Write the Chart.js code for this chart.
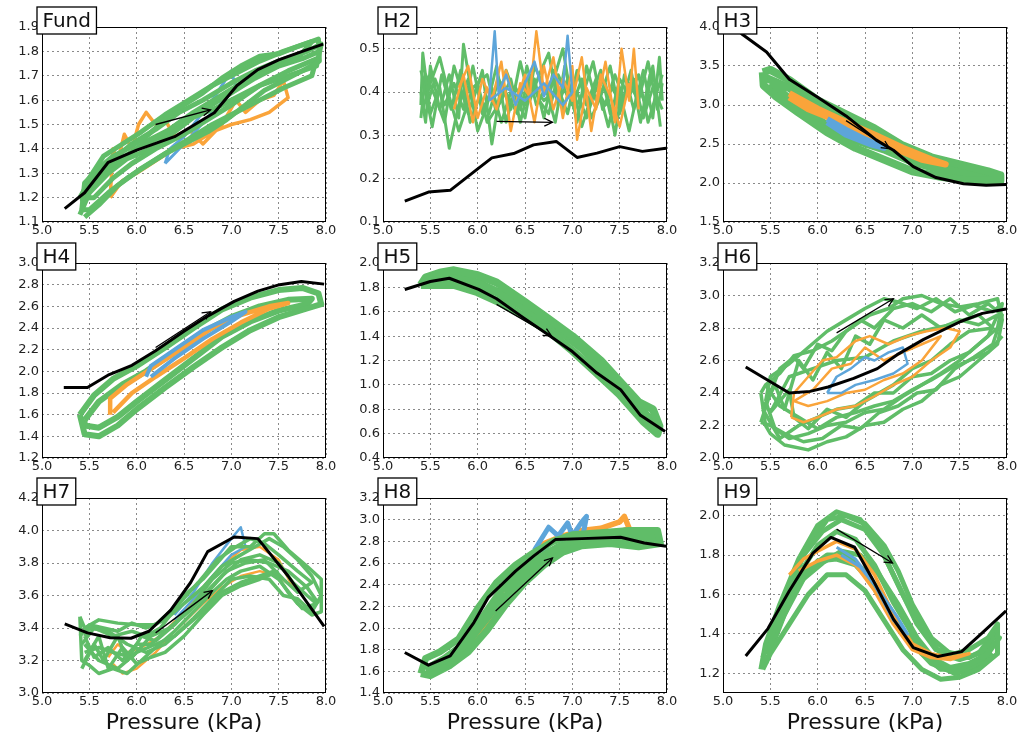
<!DOCTYPE html>
<html>
<head>
<meta charset="utf-8">
<script src="https://cdn.jsdelivr.net/npm/chart.js@4.4.1/dist/chart.umd.min.js"></script>
<style>
  body { margin: 0; background: #fff; }
  #grid { position: relative; width: 1023px; height: 742px; overflow: hidden; }
  #grid canvas { position: absolute; }
</style>
</head>
<body>
<div id="grid"></div>
<script>
// ---- data (x = pressure kPa) ----
const names = ['Fund', 'H2', 'H3', 'H4', 'H5', 'H6', 'H7', 'H8', 'H9'];
const xTicks = [5.0, 5.5, 6.0, 6.5, 7.0, 7.5, 8.0];
const xLim = [5.0, 8.0];

const yLims = [[1.1, 1.9], [0.1, 0.55], [1.5, 4.0], [1.2, 3.0], [0.4, 2.0], [2.0, 3.2], [3.0, 4.2], [1.4, 3.2], [1.1, 2.09]];
const yTicks = [
  [1.1, 1.2, 1.3, 1.4, 1.5, 1.6, 1.7, 1.8, 1.9],
  [0.1, 0.2, 0.3, 0.4, 0.5],
  [1.5, 2.0, 2.5, 3.0, 3.5, 4.0],
  [1.2, 1.4, 1.6, 1.8, 2.0, 2.2, 2.4, 2.6, 2.8, 3.0],
  [0.4, 0.6, 0.8, 1.0, 1.2, 1.4, 1.6, 1.8, 2.0],
  [2.0, 2.2, 2.4, 2.6, 2.8, 3.0, 3.2],
  [3.0, 3.2, 3.4, 3.6, 3.8, 4.0, 4.2],
  [1.4, 1.6, 1.8, 2.0, 2.2, 2.4, 2.6, 2.8, 3.0, 3.2],
  [1.2, 1.4, 1.6, 1.8, 2.0]
];

// Fund
const fundBlack = [[5.24,1.155],[5.45,1.22],[5.7,1.345],[6.0,1.395],[6.4,1.45],[6.82,1.548],[7.06,1.66],[7.28,1.725],[7.5,1.765],[7.75,1.8],[7.97,1.83]];
const fundArrow = [[6.2,1.5],[6.78,1.56]];
const fundGreen = [
  [[5.42,1.15],[5.45,1.26],[5.6,1.32],[5.75,1.37],[5.9,1.4],[6.1,1.45],[6.3,1.52],[6.5,1.58],[6.7,1.63],[6.9,1.69],[7.1,1.74],[7.3,1.78],[7.5,1.79],[7.7,1.82],[7.92,1.85],[7.93,1.76],[7.75,1.72],[7.55,1.68],[7.35,1.64],[7.15,1.58],[6.95,1.52],[6.75,1.47],[6.5,1.42],[6.3,1.38],[6.1,1.33],[5.9,1.28],[5.7,1.22],[5.5,1.15],[5.42,1.15]],
  [[5.4,1.2],[5.5,1.27],[5.7,1.34],[5.95,1.42],[6.2,1.48],[6.45,1.55],[6.7,1.6],[7.0,1.67],[7.25,1.72],[7.5,1.76],[7.8,1.8],[7.95,1.83],[7.9,1.74],[7.6,1.7],[7.3,1.66],[7.0,1.58],[6.75,1.52],[6.5,1.46],[6.2,1.4],[5.95,1.34],[5.75,1.28],[5.55,1.2],[5.4,1.2]],
  [[5.4,1.13],[5.5,1.22],[5.7,1.3],[5.9,1.36],[6.15,1.4],[6.4,1.47],[6.6,1.53],[6.85,1.57],[7.1,1.62],[7.35,1.67],[7.6,1.72],[7.9,1.77],[7.85,1.7],[7.55,1.65],[7.3,1.6],[7.05,1.55],[6.8,1.5],[6.55,1.44],[6.3,1.38],[6.05,1.32],[5.8,1.25],[5.6,1.17],[5.45,1.12]],
  [[5.45,1.25],[5.65,1.37],[5.85,1.42],[6.05,1.47],[6.3,1.54],[6.55,1.6],[6.8,1.66],[7.05,1.71],[7.3,1.76],[7.55,1.8],[7.85,1.84],[7.7,1.77],[7.4,1.73],[7.15,1.68],[6.9,1.62],[6.6,1.55],[6.35,1.48],[6.1,1.43],[5.85,1.36],[5.6,1.3],[5.45,1.25]],
  [[5.42,1.18],[5.6,1.28],[5.8,1.35],[6.0,1.4],[6.25,1.45],[6.5,1.52],[6.75,1.57],[7.0,1.63],[7.25,1.69],[7.5,1.74],[7.75,1.77],[7.93,1.8]]
];
const fundOrange = [
  [[5.72,1.2],[5.75,1.4],[5.8,1.35],[5.87,1.46],[5.95,1.4],[6.02,1.5],[6.1,1.55],[6.2,1.5],[6.3,1.52],[6.4,1.45],[6.55,1.48],[6.7,1.42],[6.9,1.5],[7.05,1.6],[7.15,1.55],[7.3,1.6],[7.45,1.62],[7.55,1.68],[7.6,1.61],[7.4,1.55],[7.2,1.52],[7.0,1.5],[6.8,1.47],[6.6,1.42],[6.4,1.4],[6.2,1.35],[6.0,1.3],[5.85,1.27],[5.72,1.2]]
];
const fundBlue = [[6.3,1.34],[6.35,1.4],[6.5,1.45],[6.8,1.6],[7.0,1.72],[7.05,1.65],[6.8,1.55],[6.5,1.42],[6.3,1.34]];

// H2
const h2Black = [[5.23,0.148],[5.48,0.169],[5.71,0.173],[5.99,0.221],[6.15,0.248],[6.38,0.258],[6.59,0.278],[6.83,0.286],[7.05,0.249],[7.26,0.259],[7.5,0.274],[7.74,0.263],[7.99,0.27]];
const h2Arrow = [[6.2,0.332],[6.79,0.33]];
const h2Green = [
  [[5.4,0.4],[5.45,0.33],[5.5,0.46],[5.6,0.36],[5.7,0.44],[5.8,0.34],[5.85,0.51],[5.95,0.38],[6.05,0.45],[6.15,0.28],[6.25,0.42],[6.35,0.36],[6.45,0.47],[6.55,0.38],[6.65,0.44],[6.75,0.49],[6.85,0.37],[6.95,0.43],[7.05,0.33],[7.15,0.46],[7.25,0.38],[7.35,0.42],[7.45,0.3],[7.55,0.44],[7.65,0.36],[7.75,0.45],[7.85,0.34],[7.92,0.48],[7.95,0.38]],
  [[7.93,0.32],[7.85,0.46],[7.78,0.37],[7.7,0.41],[7.6,0.31],[7.5,0.4],[7.4,0.35],[7.3,0.45],[7.2,0.39],[7.1,0.32],[7.0,0.42],[6.9,0.36],[6.8,0.45],[6.7,0.34],[6.6,0.43],[6.5,0.37],[6.4,0.41],[6.3,0.33],[6.2,0.46],[6.1,0.37],[6.0,0.31],[5.9,0.43],[5.8,0.37],[5.7,0.27],[5.6,0.41],[5.5,0.35],[5.42,0.49],[5.4,0.37]],
  [[5.42,0.36],[5.5,0.42],[5.6,0.48],[5.7,0.39],[5.8,0.31],[5.95,0.41],[6.1,0.44],[6.2,0.35],[6.3,0.45],[6.4,0.39],[6.5,0.34],[6.6,0.46],[6.75,0.39],[6.9,0.5],[7.0,0.37],[7.1,0.43],[7.2,0.34],[7.3,0.39],[7.4,0.46],[7.5,0.35],[7.6,0.42],[7.7,0.38],[7.8,0.47],[7.9,0.36],[7.95,0.42]],
  [[7.95,0.44],[7.88,0.39],[7.8,0.33],[7.7,0.44],[7.6,0.39],[7.5,0.43],[7.38,0.32],[7.25,0.43],[7.15,0.37],[7.05,0.45],[6.95,0.35],[6.85,0.41],[6.7,0.38],[6.55,0.42],[6.45,0.33],[6.35,0.43],[6.25,0.38],[6.1,0.33],[6.0,0.42],[5.9,0.35],[5.75,0.46],[5.65,0.33],[5.55,0.39],[5.45,0.44],[5.4,0.34]],
  [[5.4,0.45],[5.48,0.38],[5.55,0.43],[5.65,0.37],[5.75,0.42],[5.85,0.36],[5.95,0.46],[6.05,0.35],[6.15,0.41],[6.25,0.33],[6.35,0.4],[6.45,0.36],[6.55,0.44],[6.65,0.38],[6.75,0.35],[6.85,0.44],[6.95,0.39],[7.05,0.4],[7.15,0.34],[7.25,0.41],[7.35,0.37],[7.45,0.44],[7.55,0.38],[7.65,0.43],[7.75,0.34],[7.85,0.41],[7.95,0.36]],
  [[7.92,0.41],[7.82,0.44],[7.72,0.33],[7.62,0.45],[7.52,0.37],[7.42,0.41],[7.32,0.36],[7.22,0.47],[7.12,0.4],[7.02,0.36],[6.92,0.46],[6.82,0.33],[6.72,0.41],[6.62,0.37],[6.52,0.46],[6.42,0.35],[6.32,0.39],[6.22,0.43],[6.12,0.35],[6.02,0.39],[5.92,0.33],[5.82,0.45],[5.72,0.36],[5.62,0.44],[5.52,0.32],[5.44,0.41]]
];
const h2Orange = [
  [[5.75,0.36],[5.85,0.44],[5.95,0.33],[6.05,0.43],[6.15,0.38],[6.25,0.47],[6.35,0.31],[6.45,0.42],[6.55,0.39],[6.62,0.54],[6.7,0.4],[6.8,0.48],[6.9,0.34],[7.0,0.46],[7.05,0.29],[7.15,0.41],[7.25,0.36],[7.35,0.47],[7.45,0.33],[7.52,0.5],[7.6,0.38],[7.65,0.5],[7.7,0.36]],
  [[7.6,0.42],[7.5,0.32],[7.4,0.39],[7.3,0.44],[7.2,0.31],[7.1,0.48],[7.0,0.38],[6.9,0.43],[6.8,0.36],[6.7,0.46],[6.6,0.33],[6.5,0.44],[6.4,0.37],[6.3,0.45],[6.2,0.36],[6.1,0.41],[6.0,0.34],[5.9,0.46],[5.8,0.41]]
];
const h2Blue = [[6.12,0.38],[6.18,0.54],[6.22,0.4],[6.3,0.44],[6.4,0.37],[6.5,0.42],[6.6,0.47],[6.7,0.39],[6.8,0.44],[6.9,0.41],[6.95,0.53],[7.0,0.4],[6.9,0.37],[6.7,0.42],[6.5,0.38],[6.3,0.41],[6.12,0.38]];

// H3
const h3Black = [[5.12,4.0],[5.21,3.9],[5.46,3.68],[5.7,3.33],[6.0,3.1],[6.3,2.86],[6.62,2.55],[6.8,2.42],[7.01,2.21],[7.25,2.07],[7.54,1.99],[7.78,1.97],[7.99,1.98]];
const h3Arrow = [[6.3,2.8],[6.76,2.44]];
const h3Green = [
  [[5.42,3.42],[5.5,3.45],[5.7,3.32],[6.0,3.06],[6.3,2.88],[6.6,2.7],[6.9,2.48],[7.2,2.33],[7.5,2.24],[7.8,2.15],[7.93,2.1],[7.93,2.03],[7.6,2.03],[7.3,2.08],[7.0,2.15],[6.7,2.3],[6.4,2.45],[6.1,2.65],[5.8,2.9],[5.55,3.12],[5.43,3.25],[5.42,3.42]],
  [[5.45,3.35],[5.7,3.22],[6.0,2.98],[6.3,2.8],[6.6,2.6],[6.9,2.4],[7.2,2.25],[7.5,2.16],[7.9,2.07],[7.6,2.1],[7.3,2.17],[7.0,2.27],[6.7,2.43],[6.4,2.55],[6.1,2.74],[5.8,2.98],[5.5,3.28]]
];
const h3Orange = [[[5.7,3.15],[6.0,2.95],[6.3,2.78],[6.6,2.62],[6.9,2.45],[7.2,2.3],[7.35,2.24],[7.1,2.3],[6.8,2.45],[6.5,2.62],[6.2,2.8],[5.9,2.95],[5.7,3.1]]];
const h3Blue = [[6.1,2.82],[6.3,2.68],[6.5,2.56],[6.7,2.45],[6.55,2.5],[6.3,2.62],[6.1,2.78]];

// H4
const h4Black = [[5.23,1.85],[5.48,1.85],[5.71,1.97],[5.95,2.056],[6.2,2.19],[6.5,2.37],[6.75,2.51],[7.03,2.646],[7.28,2.74],[7.51,2.8],[7.74,2.83],[7.98,2.805]];
const h4Arrow = [[6.2,2.22],[6.78,2.55]];
const h4Green = [
  [[5.4,1.6],[5.55,1.78],[5.75,1.93],[6.0,2.05],[6.3,2.22],[6.6,2.4],[6.9,2.57],[7.2,2.68],[7.5,2.75],[7.75,2.77],[7.92,2.72],[7.95,2.62],[7.8,2.58],[7.5,2.5],[7.2,2.38],[6.9,2.22],[6.6,2.04],[6.3,1.85],[6.0,1.65],[5.8,1.5],[5.6,1.4],[5.45,1.42],[5.4,1.6]],
  [[5.45,1.55],[5.6,1.72],[5.85,1.88],[6.1,2.0],[6.4,2.18],[6.7,2.36],[7.0,2.5],[7.3,2.6],[7.6,2.66],[7.85,2.67],[7.8,2.62],[7.5,2.56],[7.2,2.46],[6.9,2.32],[6.6,2.12],[6.3,1.92],[6.0,1.72],[5.8,1.58],[5.6,1.48],[5.45,1.5],[5.45,1.55]]
];
const h4Orange = [[[5.72,1.6],[5.72,1.75],[5.9,1.88],[6.2,2.05],[6.5,2.22],[6.8,2.4],[7.1,2.52],[7.4,2.6],[7.6,2.63],[7.4,2.58],[7.1,2.45],[6.8,2.3],[6.5,2.12],[6.2,1.95],[5.95,1.8],[5.75,1.62]]];
const h4Blue = [[6.1,1.95],[6.15,2.05],[6.4,2.2],[6.7,2.38],[7.0,2.5],[7.15,2.55],[7.0,2.46],[6.7,2.3],[6.4,2.12],[6.15,1.95]];

// H5
const h5Black = [[5.23,1.783],[5.5,1.848],[5.7,1.875],[6.01,1.783],[6.2,1.707],[6.47,1.558],[6.73,1.42],[7.0,1.273],[7.26,1.097],[7.51,0.961],[7.72,0.75],[7.98,0.617]];
const h5Arrow = [[6.2,1.66],[6.78,1.4]];
const h5Green = [
  [[5.4,1.82],[5.45,1.88],[5.6,1.92],[5.75,1.94],[6.0,1.9],[6.2,1.84],[6.5,1.68],[6.7,1.57],[7.0,1.4],[7.3,1.2],[7.5,1.03],[7.7,0.86],[7.85,0.8],[7.92,0.66],[7.9,0.6],[7.75,0.7],[7.5,0.92],[7.25,1.1],[7.0,1.28],[6.75,1.44],[6.5,1.56],[6.25,1.67],[6.0,1.76],[5.75,1.82],[5.5,1.82],[5.4,1.82]],
  [[5.45,1.85],[5.7,1.9],[6.0,1.84],[6.3,1.73],[6.6,1.6],[6.9,1.43],[7.2,1.24],[7.5,0.98],[7.75,0.78],[7.9,0.65],[7.7,0.8],[7.4,1.05],[7.1,1.3],[6.8,1.48],[6.5,1.63],[6.2,1.76],[5.9,1.84],[5.6,1.86]]
];
const h5Orange = [[[7.2,1.18],[7.35,1.1],[7.5,0.97],[7.45,1.03],[7.3,1.12]]];
const h5Blue = [[6.9,1.43],[7.0,1.38],[6.95,1.41]];

// H6
const h6Black = [[5.24,2.56],[5.7,2.4],[5.92,2.41],[6.11,2.437],[6.38,2.49],[6.63,2.55],[6.84,2.636],[7.12,2.73],[7.51,2.84],[7.74,2.89],[7.99,2.917]];
const h6Arrow = [[6.2,2.77],[6.8,2.98]];
const h6Green = [
  [[5.4,2.4],[5.45,2.2],[5.5,2.15],[5.65,2.08],[5.9,2.05],[6.1,2.1],[6.3,2.13],[6.5,2.2],[6.7,2.22],[6.9,2.3],[7.1,2.35],[7.3,2.45],[7.5,2.5],[7.7,2.6],[7.9,2.7],[7.95,2.85],[7.9,2.98],[7.7,2.95],[7.5,2.93],[7.3,2.95],[7.1,3.0],[6.9,2.98],[6.75,2.92],[6.55,2.88],[6.35,2.8],[6.15,2.72],[5.95,2.66],[5.75,2.63],[5.6,2.52],[5.45,2.45],[5.4,2.4]],
  [[5.45,2.35],[5.5,2.5],[5.7,2.58],[5.9,2.68],[6.1,2.78],[6.3,2.85],[6.5,2.92],[6.7,2.98],[6.85,2.96],[7.05,2.92],[7.25,2.98],[7.45,2.9],[7.65,2.94],[7.85,2.9],[7.95,2.95],[7.9,2.8],[7.7,2.7],[7.5,2.6],[7.3,2.52],[7.1,2.45],[6.9,2.38],[6.7,2.3],[6.5,2.28],[6.3,2.22],[6.1,2.2],[5.9,2.15],[5.7,2.12],[5.55,2.18],[5.45,2.35]],
  [[5.42,2.3],[5.55,2.45],[5.65,2.3],[5.8,2.6],[5.95,2.48],[6.1,2.65],[6.25,2.55],[6.4,2.75],[6.55,2.7],[6.7,2.85],[6.9,2.8],[7.1,2.88],[7.3,2.8],[7.5,2.85],[7.7,2.82],[7.9,2.88],[7.8,2.75],[7.6,2.65],[7.4,2.6],[7.2,2.52],[7.0,2.5],[6.8,2.4],[6.6,2.4],[6.4,2.32],[6.2,2.3],[6.0,2.25],[5.8,2.2],[5.6,2.12],[5.42,2.3]],
  [[5.5,2.28],[5.7,2.42],[5.75,2.25],[5.9,2.18],[6.1,2.3],[6.3,2.25],[6.5,2.35],[6.8,2.45],[7.0,2.55],[7.2,2.6],[7.4,2.7],[7.6,2.78],[7.85,2.8],[7.7,2.88],[7.4,2.82],[7.1,2.78],[6.8,2.72],[6.5,2.62],[6.2,2.6],[5.95,2.55],[5.7,2.5],[5.5,2.28]],
  [[5.4,2.22],[5.5,2.4],[5.6,2.55],[5.75,2.62],[5.85,2.55],[6.0,2.7],[6.15,2.66],[6.3,2.78],[6.45,2.85],[6.6,2.8],[6.8,2.92],[7.0,2.95],[7.2,2.9],[7.4,2.98],[7.6,2.88],[7.8,2.95],[7.95,2.88],[7.85,2.7],[7.65,2.62],[7.45,2.55],[7.25,2.42],[7.05,2.4],[6.85,2.32],[6.65,2.28],[6.45,2.18],[6.25,2.2],[6.05,2.12],[5.85,2.1],[5.65,2.15],[5.5,2.2],[5.4,2.22]],
  [[5.45,2.45],[5.6,2.32],[5.8,2.25],[6.0,2.18],[6.2,2.25],[6.4,2.28],[6.6,2.32],[6.8,2.35],[7.0,2.42],[7.2,2.48],[7.4,2.55],[7.6,2.6],[7.8,2.65],[7.95,2.75]]
];
const h6Orange = [
  [[5.72,2.25],[5.75,2.4],[5.9,2.5],[6.05,2.6],[6.2,2.62],[6.4,2.72],[6.55,2.75],[6.75,2.7],[6.95,2.75],[7.15,2.78],[7.35,2.8],[7.5,2.78],[7.4,2.68],[7.2,2.6],[7.0,2.5],[6.8,2.45],[6.6,2.38],[6.4,2.32],[6.2,2.3],[6.0,2.25],[5.85,2.22],[5.72,2.25]],
  [[5.75,2.35],[5.95,2.42],[6.15,2.55],[6.35,2.58],[6.5,2.68],[6.7,2.6],[6.9,2.65],[7.1,2.7],[7.3,2.75],[7.1,2.6],[6.9,2.52],[6.7,2.48],[6.5,2.42],[6.3,2.4],[6.1,2.35],[5.9,2.32],[5.75,2.35]]
];
const h6Blue = [[6.1,2.4],[6.2,2.5],[6.35,2.55],[6.5,2.62],[6.6,2.6],[6.75,2.65],[6.9,2.68],[6.95,2.58],[6.8,2.52],[6.6,2.48],[6.4,2.45],[6.25,2.4],[6.1,2.4]];

// H7
const h7Black = [[5.24,3.425],[5.48,3.37],[5.72,3.34],[5.94,3.337],[6.13,3.38],[6.36,3.51],[6.57,3.68],[6.75,3.87],[7.03,3.96],[7.28,3.95],[7.6,3.72],[7.98,3.41]];
const h7Arrow = [[6.2,3.37],[6.8,3.63]];
const h7Green = [
  [[5.4,3.47],[5.42,3.2],[5.5,3.17],[5.6,3.12],[5.75,3.15],[5.9,3.12],[6.05,3.2],[6.2,3.28],[6.4,3.38],[6.6,3.5],[6.8,3.62],[6.95,3.7],[7.1,3.75],[7.3,3.78],[7.5,3.7],[7.7,3.55],[7.85,3.48],[7.95,3.5],[7.95,3.7],[7.8,3.78],[7.6,3.88],[7.45,3.98],[7.35,3.98],[7.2,3.9],[7.0,3.9],[6.85,3.8],[6.7,3.7],[6.5,3.6],[6.35,3.5],[6.2,3.42],[6.0,3.42],[5.8,3.43],[5.6,3.45],[5.45,3.4],[5.4,3.47]],
  [[5.45,3.35],[5.55,3.22],[5.7,3.28],[5.85,3.2],[6.0,3.3],[6.15,3.3],[6.3,3.38],[6.5,3.48],[6.7,3.6],[6.9,3.72],[7.1,3.82],[7.3,3.85],[7.5,3.8],[7.65,3.68],[7.8,3.6],[7.9,3.55],[7.75,3.52],[7.6,3.62],[7.45,3.75],[7.3,3.72],[7.1,3.68],[6.9,3.62],[6.7,3.5],[6.5,3.4],[6.3,3.3],[6.1,3.25],[5.9,3.3],[5.7,3.38],[5.5,3.4],[5.45,3.35]],
  [[5.42,3.3],[5.55,3.4],[5.75,3.35],[5.95,3.38],[6.1,3.35],[6.25,3.4],[6.45,3.55],[6.65,3.68],[6.85,3.82],[7.05,3.9],[7.2,3.95],[7.35,3.92],[7.5,3.85],[7.7,3.75],[7.85,3.68],[7.7,3.62],[7.55,3.7],[7.35,3.82],[7.15,3.8],[6.95,3.75],[6.75,3.62],[6.55,3.5],[6.35,3.4],[6.15,3.35],[5.95,3.22],[5.75,3.25],[5.6,3.28],[5.45,3.25]],
  [[5.45,3.2],[5.6,3.35],[5.7,3.15],[5.85,3.28],[6.0,3.18],[6.15,3.22],[6.3,3.25],[6.5,3.35],[6.7,3.48],[6.9,3.6],[7.1,3.66],[7.3,3.7],[7.5,3.75]],
  [[5.4,3.35],[5.5,3.42],[5.65,3.4],[5.8,3.38],[5.95,3.43],[6.1,3.4],[6.3,3.45],[6.5,3.55],[6.7,3.65],[6.9,3.78],[7.1,3.85],[7.25,3.9],[7.4,3.95],[7.55,3.9],[7.7,3.82],[7.85,3.72],[7.95,3.6],[7.85,3.5],[7.7,3.58],[7.55,3.6],[7.4,3.7],[7.2,3.72],[7.0,3.7],[6.8,3.58],[6.6,3.46],[6.4,3.35],[6.2,3.3],[6.0,3.25],[5.8,3.15],[5.6,3.2],[5.45,3.3]],
  [[5.42,3.15],[5.55,3.3],[5.65,3.2],[5.8,3.35],[5.9,3.2],[6.05,3.35],[6.2,3.32],[6.4,3.42],[6.6,3.55],[6.8,3.7],[7.0,3.8],[7.2,3.82],[7.4,3.8],[7.6,3.75],[7.8,3.65],[7.92,3.55]]
];
const h7Orange = [[[5.7,3.22],[5.8,3.3],[5.9,3.25],[6.05,3.28],[6.25,3.35],[6.5,3.5],[6.7,3.65],[6.9,3.78],[7.1,3.88],[7.3,3.9],[7.5,3.82],[7.65,3.65],[7.5,3.72],[7.3,3.75],[7.1,3.72],[6.9,3.65],[6.7,3.55],[6.4,3.38],[6.2,3.25],[6.0,3.15],[5.85,3.12],[5.75,3.18]]];
const h7Blue = [[6.4,3.48],[6.6,3.62],[6.8,3.8],[7.0,3.95],[7.1,4.02],[7.15,3.9],[7.0,3.85],[6.8,3.72],[6.6,3.58],[6.4,3.45]];

// H8
const h8Black = [[5.23,1.774],[5.48,1.657],[5.71,1.743],[5.96,2.05],[6.11,2.28],[6.4,2.525],[6.59,2.663],[6.82,2.816],[7.1,2.825],[7.51,2.837],[7.76,2.785],[7.99,2.755]];
const h8Arrow = [[6.19,2.157],[6.79,2.647]];
const h8Green = [
  [[5.4,1.58],[5.45,1.72],[5.6,1.78],[5.8,1.9],[6.0,2.18],[6.2,2.42],[6.4,2.58],[6.6,2.7],[6.8,2.8],[7.0,2.86],[7.3,2.88],[7.6,2.9],[7.9,2.9],[7.93,2.78],[7.7,2.75],[7.4,2.78],[7.1,2.76],[6.9,2.7],[6.7,2.58],[6.5,2.42],[6.3,2.22],[6.1,1.98],[5.9,1.78],[5.7,1.65],[5.5,1.56],[5.4,1.58]],
  [[5.45,1.62],[5.65,1.72],[5.85,1.85],[6.05,2.1],[6.25,2.35],[6.45,2.52],[6.65,2.65],[6.85,2.75],[7.1,2.82],[7.4,2.85],[7.7,2.85],[7.9,2.84],[7.7,2.8],[7.4,2.82],[7.1,2.8],[6.85,2.72],[6.6,2.58],[6.4,2.4],[6.2,2.2],[6.0,1.98],[5.8,1.75],[5.6,1.63],[5.45,1.62]]
];
const h8Orange = [[[5.7,1.72],[5.9,1.88],[6.1,2.15],[6.3,2.4],[6.5,2.6],[6.7,2.78],[6.9,2.85],[7.1,2.9],[7.3,2.92],[7.5,2.98],[7.55,3.03],[7.6,2.92],[7.4,2.85],[7.1,2.82],[6.9,2.75],[6.7,2.62],[6.5,2.45],[6.3,2.25],[6.1,2.05],[5.9,1.8],[5.7,1.72]]];
const h8Blue = [[6.6,2.72],[6.75,2.93],[6.85,2.85],[6.95,2.97],[7.0,2.85],[7.1,2.98],[7.15,3.03],[7.1,2.8],[7.0,2.72],[6.9,2.78],[6.8,2.72],[6.6,2.72]];

// H9
const h9Black = [[5.24,1.288],[5.475,1.427],[5.7,1.618],[5.95,1.81],[6.14,1.89],[6.39,1.84],[6.58,1.678],[6.8,1.475],[7.01,1.33],[7.27,1.285],[7.52,1.31],[7.75,1.41],[7.99,1.517]];
const h9Arrow = [[6.2,1.932],[6.79,1.76]];
const h9Green = [
  [[5.4,1.22],[5.45,1.35],[5.6,1.55],[5.8,1.78],[6.0,1.95],[6.2,2.02],[6.45,1.98],[6.65,1.85],[6.85,1.65],[7.05,1.45],[7.25,1.32],[7.45,1.3],[7.6,1.32],[7.8,1.38],[7.9,1.45],[7.9,1.3],[7.7,1.22],[7.5,1.18],[7.3,1.17],[7.1,1.22],[6.9,1.32],[6.7,1.47],[6.5,1.62],[6.3,1.7],[6.1,1.7],[5.9,1.6],[5.7,1.45],[5.5,1.3],[5.42,1.22]],
  [[5.42,1.28],[5.6,1.5],[5.8,1.7],[6.0,1.85],[6.2,1.92],[6.4,1.88],[6.6,1.75],[6.8,1.56],[7.0,1.4],[7.2,1.28],[7.4,1.23],[7.6,1.25],[7.8,1.3],[7.92,1.38],[7.75,1.28],[7.5,1.22],[7.3,1.22],[7.1,1.3],[6.9,1.42],[6.7,1.58],[6.5,1.72],[6.3,1.8],[6.1,1.8],[5.9,1.73],[5.7,1.57],[5.5,1.38],[5.42,1.28]],
  [[5.45,1.3],[5.65,1.55],[5.85,1.8],[6.05,1.92],[6.25,1.98],[6.5,1.93],[6.7,1.8],[6.9,1.6],[7.1,1.42],[7.3,1.3],[7.5,1.27],[7.7,1.3],[7.85,1.4],[7.7,1.25],[7.45,1.2],[7.2,1.25],[7.0,1.35],[6.8,1.5],[6.6,1.65],[6.4,1.75],[6.2,1.78],[6.0,1.77],[5.8,1.65],[5.6,1.45],[5.45,1.3]],
  [[5.5,1.4],[5.7,1.65],[5.9,1.85],[6.1,1.98],[6.3,2.0],[6.5,1.96],[6.7,1.85],[6.85,1.72],[7.0,1.55],[7.2,1.38],[7.4,1.3],[7.6,1.28],[7.8,1.33],[7.9,1.42]],
  [[5.45,1.25],[5.65,1.5],[5.85,1.68],[6.05,1.76],[6.25,1.82],[6.45,1.8],[6.65,1.7],[6.85,1.55],[7.05,1.38],[7.25,1.26],[7.45,1.2],[7.65,1.22],[7.85,1.3]]
];
const h9Orange = [[[5.7,1.7],[5.85,1.78],[6.0,1.82],[6.2,1.87],[6.4,1.83],[6.6,1.7],[6.8,1.5],[7.0,1.35],[7.2,1.3],[7.4,1.28],[7.6,1.3],[7.4,1.27],[7.2,1.28],[7.0,1.32],[6.8,1.45],[6.6,1.62],[6.4,1.75],[6.2,1.8],[6.0,1.77],[5.8,1.72]]];
const h9Blue = [[6.2,1.84],[6.4,1.78],[6.6,1.65],[6.8,1.47],[6.95,1.4],[6.85,1.48],[6.65,1.62],[6.45,1.74],[6.25,1.8]];

const blacks = [fundBlack, h2Black, h3Black, h4Black, h5Black, h6Black, h7Black, h8Black, h9Black];
const arrows = [fundArrow, h2Arrow, h3Arrow, h4Arrow, h5Arrow, h6Arrow, h7Arrow, h8Arrow, h9Arrow];
const greens = [fundGreen, h2Green, h3Green, h4Green, h5Green, h6Green, h7Green, h8Green, h9Green];
const oranges = [fundOrange, h2Orange, h3Orange, h4Orange, h5Orange, h6Orange, h7Orange, h8Orange, h9Orange];
const blues = [fundBlue, h2Blue, h3Blue, h4Blue, h5Blue, h6Blue, h7Blue, h8Blue, h9Blue];

// ---- styling ----
const GREEN = '#60BD68', ORANGE = '#FAA43A', BLUE = '#5DA5DA';
const greenW = [5, 3, 8, 6, 8, 3.5, 3.5, 7, 5];
const greenOnTop = [true, false, false, false, true, false, true, true, false];
const colLeft = [42, 383, 723];
const rowTop = [27, 263, 498];
const PW = 284, PH = 195, YW = 42, PT = 22, PR = 14;

Chart.defaults.font.family = 'DejaVu Sans';
Chart.defaults.font.size = 13;
Chart.defaults.color = '#222';

const pts = arr => arr.map(([x, y]) => ({x, y}));

const framePlugin = {
  id: 'frame',
  afterDatasetsDraw(chart) {
    const {ctx, chartArea: a} = chart;
    const ar = chart.options.plugins.frame.arrow;
    const sx = chart.scales.x, sy = chart.scales.y;
    // arrow head
    const x0 = sx.getPixelForValue(ar[0][0]), y0 = sy.getPixelForValue(ar[0][1]);
    const x1 = sx.getPixelForValue(ar[1][0]), y1 = sy.getPixelForValue(ar[1][1]);
    const ang = Math.atan2(y1 - y0, x1 - x0);
    ctx.save();
    ctx.strokeStyle = '#000';
    ctx.lineWidth = 1.3;
    ctx.beginPath();
    ctx.moveTo(x1 - 9 * Math.cos(ang - 0.45), y1 - 9 * Math.sin(ang - 0.45));
    ctx.lineTo(x1, y1);
    ctx.lineTo(x1 - 9 * Math.cos(ang + 0.45), y1 - 9 * Math.sin(ang + 0.45));
    ctx.stroke();
    // axes frame
    ctx.lineWidth = 1;
    ctx.strokeRect(a.left + 0.5, a.top + 0.5, a.right - a.left - 1, a.bottom - a.top - 1);
    // title box
    const name = chart.options.plugins.frame.name;
    ctx.font = '20px "DejaVu Sans"';
    const tw = ctx.measureText(name).width;
    const bx = a.left - 5, by = a.top - 20, bw = tw + 11, bh = 27;
    ctx.fillStyle = '#fff';
    ctx.fillRect(bx, by, bw, bh);
    ctx.lineWidth = 1.3;
    ctx.strokeRect(bx, by, bw, bh);
    ctx.fillStyle = '#111';
    ctx.textBaseline = 'middle';
    ctx.fillText(name, bx + 5.5, by + bh / 2 + 1);
    ctx.restore();
  }
};

const grid = document.getElementById('grid');

names.forEach((name, i) => {
  const c = i % 3, r = Math.floor(i / 3);
  const bottomRow = r === 2;
  const XH = bottomRow ? 48 : 16;
  const cv = document.createElement('canvas');
  cv.width = YW + PW + PR;
  cv.height = PT + PH + XH;
  cv.style.left = (colLeft[c] - YW) + 'px';
  cv.style.top = (rowTop[r] - PT) + 'px';
  grid.appendChild(cv);

  // first dataset is drawn on top
  const gSets = greens[i].map(g => ({data: pts(g), borderColor: GREEN, borderWidth: greenW[i]}));
  const cSets = oranges[i].map(o => ({data: pts(o), borderColor: ORANGE, borderWidth: Math.max(2.5, greenW[i] - 1.5)}));
  cSets.unshift({data: pts(blues[i]), borderColor: BLUE, borderWidth: Math.max(2.5, greenW[i] - 2)});
  const datasets = [
    {data: pts(arrows[i]), borderColor: '#000', borderWidth: 1.3},
    {data: pts(blacks[i]), borderColor: '#000', borderWidth: 3},
    ...(greenOnTop[i] ? gSets.concat(cSets) : cSets.concat(gSets))
  ];
  datasets.forEach(d => { d.pointRadius = 0; d.tension = 0; d.clip = 0; d.fill = false; d.borderJoinStyle = 'round'; });

  new Chart(cv, {
    type: 'line',
    data: {datasets},
    options: {
      responsive: false,
      animation: false,
      devicePixelRatio: 1,
      layout: {padding: {left: 0, top: PT, right: PR, bottom: 0}},
      plugins: {legend: {display: false}, tooltip: {enabled: false}, frame: {name, arrow: arrows[i]}},
      scales: {
        x: {
          type: 'linear', min: xLim[0], max: xLim[1],
          afterBuildTicks: s => { s.ticks = xTicks.map(v => ({value: v})); },
          afterFit: s => { s.height = XH; },
          ticks: {autoSkip: false, maxRotation: 0, padding: 1, callback: v => v.toFixed(1)},
          grid: {color: '#8a8a8a', lineWidth: 1, drawTicks: false},
          border: {display: false, dash: [2, 3]},
          title: {display: bottomRow, text: 'Pressure (kPa)', color: '#111', font: {size: 22}, padding: {top: 0, bottom: 5}}
        },
        y: {
          type: 'linear', min: yLims[i][0], max: yLims[i][1],
          afterBuildTicks: s => { s.ticks = yTicks[i].map(v => ({value: v})); },
          afterFit: s => { s.width = YW; },
          ticks: {autoSkip: false, padding: 3, callback: v => v.toFixed(1)},
          grid: {color: '#8a8a8a', lineWidth: 1, drawTicks: false},
          border: {display: false, dash: [2, 3]}
        }
      }
    },
    plugins: [framePlugin]
  });
});
</script>
</body>
</html>
